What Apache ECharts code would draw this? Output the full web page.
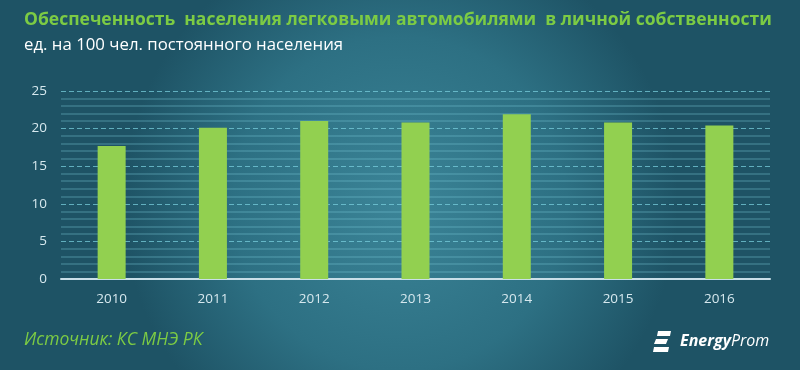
<!DOCTYPE html>
<html>
<head>
<meta charset="utf-8">
<script src="https://cdn.jsdelivr.net/npm/echarts@6/dist/echarts.min.js"></script>
<style>
    html, body { margin: 0; padding: 0; background: #2a6a7d; }
    #chart { width: 800px; height: 370px; }
</style>
</head>
<body>
<div id="chart"></div>
<script>
    // годы и обеспеченность (ед. на 100 чел.)
    var years = ['2010', '2011', '2012', '2013', '2014', '2015', '2016'];
    var cars = [17.7, 20.1, 21.0, 20.8, 21.9, 20.8, 20.4];
    var yTicks = { min: 0, max: 25, step: 5 };

    var titleText = 'Обеспеченность  населения легковыми автомобилями  в личной собственности';
    var subText = 'ед. на 100 чел. постоянного населения';
    var sourceText = 'Источник: КС МНЭ РК';

    var chart = echarts.init(document.getElementById('chart'));
    var font = '"Open Sans", "Noto Sans", sans-serif';

    var options = {
        animation: false,
        graphic: [
            {
                type: 'rect', z: -10, silent: true,
                shape: { x: 0, y: 0, width: 800, height: 370 },
                style: {
                    fill: {
                        type: 'radial', x: 0.5, y: 0.55, r: 0.75,
                        colorStops: [
                            { offset: 0, color: '#3b8497' },
                            { offset: 0.6, color: '#2d7083' },
                            { offset: 1, color: '#1e5365' }
                        ]
                    }
                }
            },
            {
                type: 'text', left: 24, top: 11,
                style: { text: titleText, fill: '#7ccb44', font: 'bold 17.5px ' + font }
            },
            {
                type: 'text', left: 24, top: 37,
                style: { text: subText, fill: '#ffffff', font: '16.8px ' + font }
            },
            {
                type: 'text', left: 24, top: 331,
                style: { text: sourceText, fill: '#7ccb44', font: 'italic 17.5px ' + font }
            },
            // логотип EnergyProm
            {
                type: 'group', left: 653, top: 331,
                children: [
                    { type: 'polygon', shape: { points: [[5, 0], [18, 0], [17, 5], [4, 5]] }, style: { fill: '#ffffff' } },
                    { type: 'polygon', shape: { points: [[3, 8], [15, 8], [13, 13], [1, 13]] }, style: { fill: '#ffffff' } },
                    { type: 'polygon', shape: { points: [[1, 16], [16, 16], [15, 21], [0, 21]] }, style: { fill: '#ffffff' } },
                    {
                        type: 'text', x: 27, y: 2,
                        style: {
                            text: '{a|Energy}{b|Prom}',
                            rich: {
                                a: { fill: '#ffffff', font: 'italic bold 16px ' + font },
                                b: { fill: '#ffffff', font: 'italic 16px ' + font }
                            }
                        }
                    }
                ]
            }
        ],
        grid: {
            left: 61,
            right: 30,
            top: 91,
            bottom: 91
        },
        xAxis: {
            type: 'category',
            data: years,
            axisTick: { show: false },
            axisLine: { lineStyle: { color: '#c9dfe8', width: 2 } },
            axisLabel: { color: '#d6e8ee', fontSize: 13.5, fontFamily: font, margin: 13 }
        },
        yAxis: {
            type: 'value',
            min: yTicks.min,
            max: yTicks.max,
            interval: yTicks.step,
            axisLine: { show: false },
            axisTick: { show: false },
            axisLabel: { color: '#d6e8ee', fontSize: 13.5, fontFamily: font, margin: 14 },
            splitLine: { lineStyle: { color: 'rgba(120,205,220,0.75)', type: [5, 3], width: 1 } },
            minorTick: { show: false, splitNumber: 5 },
            minorSplitLine: { show: true, lineStyle: { color: 'rgba(120,200,215,0.35)', width: 1.5 } }
        },
        series: [{
            type: 'bar',
            data: cars,
            barWidth: 28,
            itemStyle: { color: '#92d050' }
        }]
    };

    chart.setOption(options);
</script>
</body>
</html>
